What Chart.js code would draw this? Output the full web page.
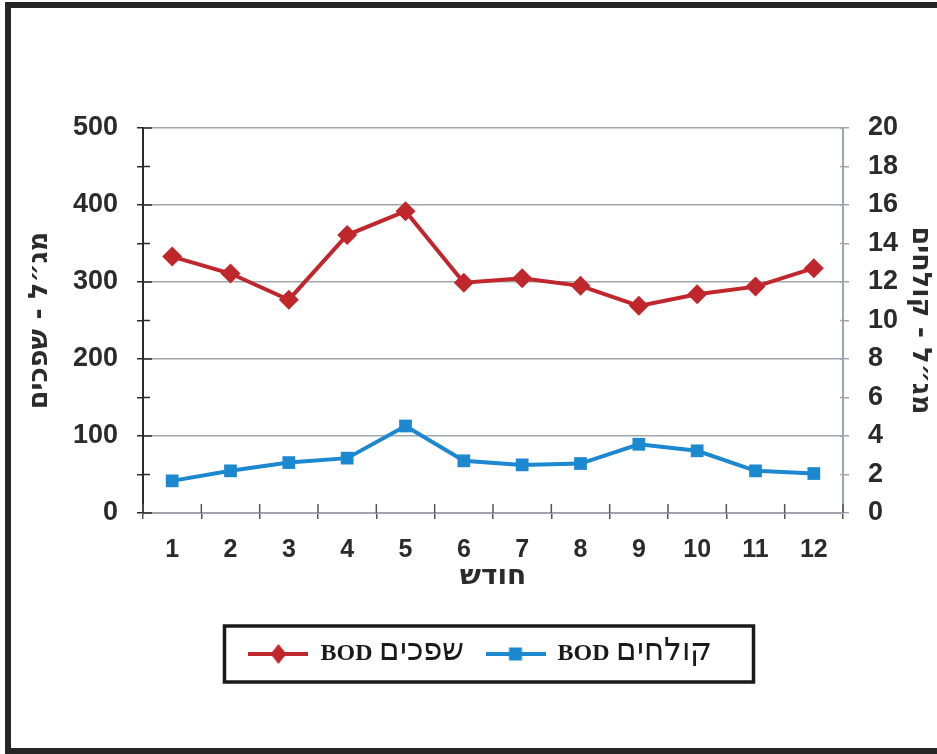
<!DOCTYPE html>
<html>
<head>
<meta charset="utf-8">
<script src="https://cdn.jsdelivr.net/npm/chart.js@4"></script>
<style>
  @font-face { font-family: 'LegendHeb'; src: local('DejaVu Sans'), local('DejaVuSans'); font-weight: bold; unicode-range: U+0590-05FF; size-adjust: 128%; }
  html, body { margin: 0; padding: 0; background: #fff; overflow: hidden; }
  #frame { position: absolute; left: 5px; top: 2px; width: 960px; height: 740px; border: 6px solid #262626; }
  #bod { position: absolute; left: 0; top: 0; }
</style>
</head>
<body>
<div id="frame"></div>
<canvas id="bod" width="937" height="754"></canvas>
<script>
// months (חודש)
const months = ['1', '2', '3', '4', '5', '6', '7', '8', '9', '10', '11', '12'];
// BOD raw sewage, mg/l (left axis)
const sewageBOD = [333, 311, 277, 361, 392, 299, 305, 295, 269, 284, 294, 318];
// BOD effluent, mg/l (right axis)
const effluentBOD = [1.67, 2.19, 2.62, 2.85, 4.52, 2.71, 2.50, 2.57, 3.57, 3.23, 2.19, 2.05];

const labelSewage = 'BOD שפכים';
const labelEffluent = 'BOD קולחים';

const RED = '#c0272d';
const BLUE = '#1c88cf';
const GRID = '#a0a6ad';
const DARK = '#2b2b2b';

const tickFont = { family: "'Liberation Sans', 'DejaVu Sans', sans-serif", size: 27, weight: 'bold' };
const titleFont = { family: "'DejaVu Sans', 'Liberation Sans', sans-serif", size: 27, weight: 'bold' };

// little legend icons: line with the marker in the middle
function legendIcon(color, shape) {
  const c = document.createElement('canvas');
  c.width = 60; c.height = 22;
  const g = c.getContext('2d');
  g.strokeStyle = color; g.fillStyle = color; g.lineWidth = 4;
  g.beginPath(); g.moveTo(0, 11); g.lineTo(60, 11); g.stroke();
  g.beginPath();
  if (shape === 'diamond') {
    g.moveTo(30, 1); g.lineTo(38, 11); g.lineTo(30, 21); g.lineTo(22, 11);
  } else {
    g.rect(23.5, 4.5, 13, 13);
  }
  g.closePath(); g.fill();
  return c;
}

// tick marks that cross into the plot, like the original
const innerTicks = {
  id: 'innerTicks',
  beforeDatasetsDraw(chart) {
    const {ctx, chartArea} = chart;
    const x = chart.scales.x, yL = chart.scales.yL, yR = chart.scales.yR;
    ctx.save();
    ctx.lineWidth = 1.5;
    ctx.strokeStyle = '#555';
    for (let i = 0; i <= months.length; i++) {
      const px = x.getPixelForValue(i - 0.5);
      ctx.beginPath(); ctx.moveTo(px, chartArea.bottom); ctx.lineTo(px, chartArea.bottom - 9); ctx.stroke();
    }
    ctx.strokeStyle = DARK;
    yL.ticks.forEach(t => {
      const py = yL.getPixelForValue(t.value);
      const len = t.value % 100 === 0 ? 9 : 7;
      ctx.beginPath(); ctx.moveTo(chartArea.left, py); ctx.lineTo(chartArea.left + len, py); ctx.stroke();
    });
    ctx.strokeStyle = GRID;
    yR.ticks.forEach(t => {
      const py = yR.getPixelForValue(t.value);
      ctx.beginPath(); ctx.moveTo(chartArea.right, py); ctx.lineTo(chartArea.right - 3, py); ctx.stroke();
    });
    ctx.restore();
  }
};

// black box round the legend
const legendBox = {
  id: 'legendBox',
  afterDraw(chart) {
    const hb = chart.legend.legendHitBoxes;
    if (!hb || !hb.length) return;
    const left = Math.min(...hb.map(h => h.left)) - 24;
    const right = Math.max(...hb.map(h => h.left + h.width)) + 42;
    const cy = hb[0].top + hb[0].height / 2;
    const ctx = chart.ctx;
    ctx.save();
    ctx.lineWidth = 3.5;
    ctx.strokeStyle = '#1a1a1a';
    ctx.strokeRect(left, cy - 28, right - left, 56);
    ctx.restore();
  }
};

function drawChart() {
  new Chart(document.getElementById('bod').getContext('2d'), {
    type: 'line',
    data: {
      labels: months,
      datasets: [{
        label: labelSewage,
        data: sewageBOD,
        yAxisID: 'yL',
        borderColor: RED,
        backgroundColor: RED,
        borderWidth: 4,
        pointStyle: 'rectRot',
        pointRadius: 10,
        pointBorderWidth: 0,
        tension: 0
      }, {
        label: labelEffluent,
        data: effluentBOD,
        yAxisID: 'yR',
        borderColor: BLUE,
        backgroundColor: BLUE,
        borderWidth: 4,
        pointStyle: 'rect',
        pointRadius: 9,
        pointBorderWidth: 0,
        tension: 0
      }]
    },
    options: {
      responsive: false,
      animation: false,
      layout: { padding: { left: 24, right: 1, top: 128, bottom: 78 } },
      plugins: {
        tooltip: { enabled: false },
        legend: {
          position: 'bottom',
          labels: {
            usePointStyle: true,
            pointStyleWidth: 60,
            boxHeight: 22,
            padding: 22,
            color: '#1a1a1a',
            font: { family: "LegendHeb, 'Liberation Serif', serif", size: 24, weight: 'bold' },
            generateLabels(chart) {
              return chart.data.datasets.map((ds, i) => ({
                text: ds.label,
                pointStyle: legendIcon(ds.borderColor, i === 0 ? 'diamond' : 'square'),
                fillStyle: ds.borderColor,
                strokeStyle: ds.borderColor,
                lineWidth: 0,
                fontColor: '#1a1a1a',
                datasetIndex: i
              }));
            }
          }
        }
      },
      scales: {
        x: {
          offset: true,
          grid: { offset: true, drawOnChartArea: false, tickLength: 6, color: '#555', lineWidth: 1.5 },
          border: { color: GRID, width: 2 },
          ticks: { color: DARK, font: { ...tickFont, size: 25 }, padding: 16, maxRotation: 0 },
          title: { display: true, text: 'חודש', color: DARK, font: { ...titleFont, size: 28 }, padding: { top: 0, bottom: 26 } },
          afterFit(scale) { scale.height = 107; }
        },
        yL: {
          position: 'left',
          min: 0,
          max: 500,
          ticks: {
            stepSize: 50,
            autoSkip: false,
            color: DARK,
            font: tickFont,
            padding: 19,
            callback: v => (v % 100 === 0 ? v : '')
          },
          grid: {
            tickLength: 6,
            lineWidth: 1.5,
            color: ctx => (ctx.tick && ctx.tick.value % 100 === 0 ? GRID : 'rgba(0,0,0,0)'),
            tickColor: DARK
          },
          border: { color: DARK, width: 2 },
          title: { display: true, text: 'מג״ל - שפכים', color: DARK, font: titleFont, padding: 0 },
          afterFit(scale) { scale.width = 119; }
        },
        yR: {
          position: 'right',
          min: 0,
          max: 20,
          ticks: { stepSize: 2, autoSkip: false, color: DARK, font: tickFont, padding: 19 },
          grid: { drawOnChartArea: false, tickLength: 6, color: GRID, lineWidth: 1.5 },
          border: { color: GRID, width: 2 },
          title: { display: true, text: 'מג״ל - קולחים', color: DARK, font: titleFont, padding: 0 },
          afterFit(scale) { scale.width = 93; }
        }
      }
    },
    plugins: [innerTicks, legendBox]
  });
}

document.fonts.load("bold 24px LegendHeb", 'שפכים קולחים')
  .then(drawChart, drawChart);
</script>
</body>
</html>
